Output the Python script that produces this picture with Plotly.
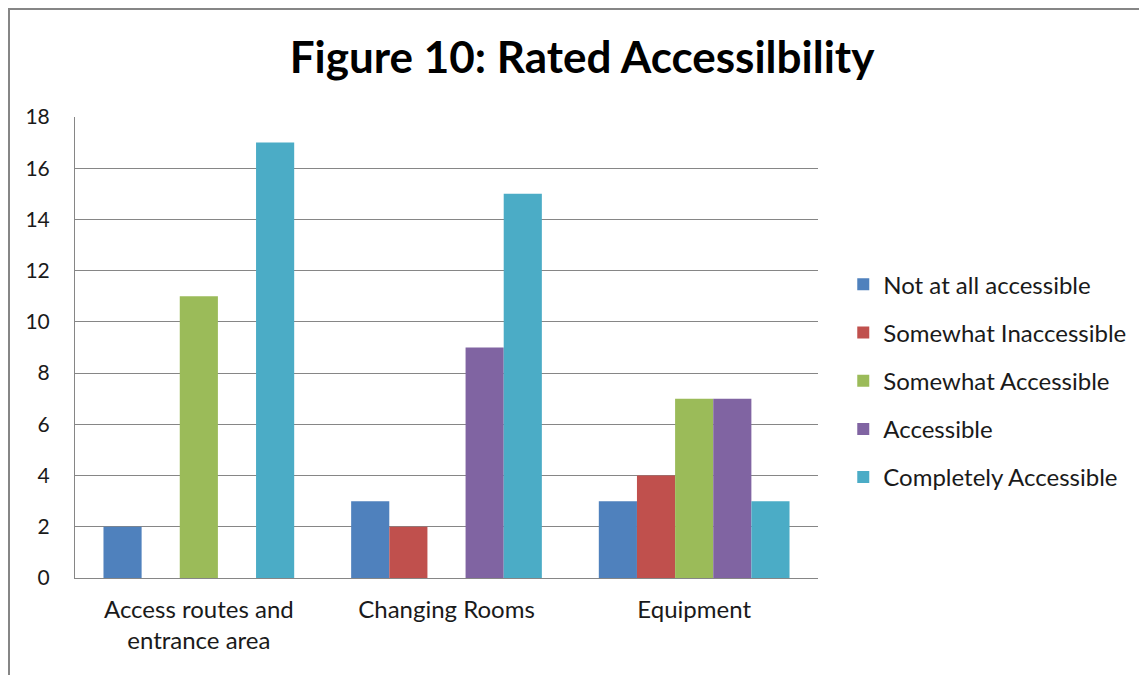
import plotly.graph_objects as go

categories = ["Access routes and<br>entrance area", "Changing Rooms", "Equipment"]
series_names = ["Not at all accessible", "Somewhat Inaccessible", "Somewhat Accessible",
                "Accessible", "Completely Accessible"]
not_at_all = [2, 3, 3]
somewhat_inacc = [0, 2, 4]
somewhat_acc = [11, 0, 7]
accessible = [0, 9, 7]
completely = [17, 15, 3]
colors = ["#4F81BD", "#C0504D", "#9BBB59", "#8064A2", "#4BACC6"]
y_ticks = [0, 2, 4, 6, 8, 10, 12, 14, 16, 18]

values = [not_at_all, somewhat_inacc, somewhat_acc, accessible, completely]
FONT = "Lato, 'Open Sans', sans-serif"

fig = go.Figure()
for name, vals, col in zip(series_names, values, colors):
    fig.add_trace(go.Bar(x=categories, y=vals, name=name, marker_color=col,
                         marker_line_width=0, legendgroup=name))

W, H = 1147, 675
ml, mr, mt, mb = 67, 337, 109, 105
pw, ph = W - ml - mr, H - mt - mb

fig.update_layout(
    width=W, height=H,
    margin=dict(l=ml, r=mr, t=mt, b=mb),
    paper_bgcolor="white", plot_bgcolor="white",
    font=dict(family=FONT, size=22, color="#1a1a1a"),
    barmode="group", bargap=0.23, bargroupgap=0,
    title=dict(text="<b>Figure 10: Rated Accessilbility</b>", x=0.5005, xref="container",
               y=1 - 50 / H, yref="container", xanchor="center", yanchor="middle",
               font=dict(size=44, color="black", family=FONT)),
    legend=dict(x=1.034, xanchor="left", y=0.685, yanchor="top",
                font=dict(size=24), tracegroupgap=14, traceorder="grouped",
                itemwidth=30),
    xaxis=dict(showline=True, linecolor="#868686", linewidth=1, showgrid=False,
               ticks="", tickfont=dict(size=24), ticklabelstandoff=10),
    yaxis=dict(range=[0, 18], tickvals=y_ticks, showgrid=True, gridcolor="#868686",
               gridwidth=1, showline=True, linecolor="#868686", linewidth=1,
               ticks="", ticklabelstandoff=20, tickfont=dict(size=21), zeroline=False),
    showlegend=True,
)

# outer chart border
fig.add_shape(type="rect", xref="paper", yref="paper",
              x0=(1 - ml) / pw, x1=(W + 10 - ml) / pw,
              y0=(570 - (H + 10)) / ph, y1=(570 - 1) / ph,
              line=dict(color="#868686", width=2), layer="below")

fig.write_html("out.html")
